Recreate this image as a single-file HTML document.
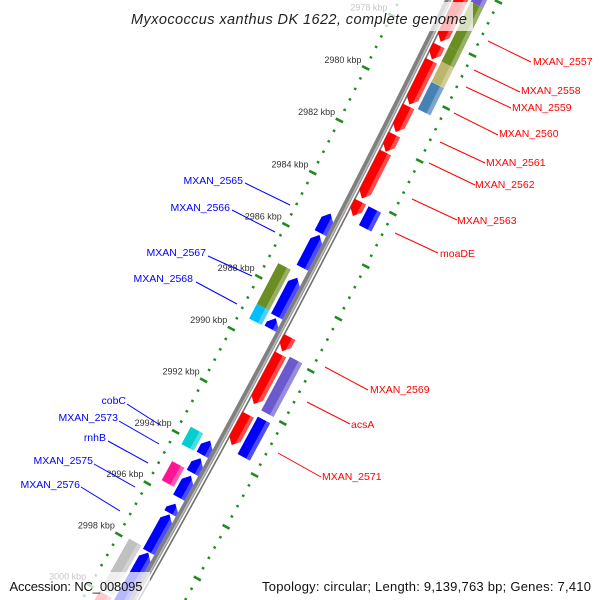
<!DOCTYPE html>
<html><head><meta charset="utf-8"><style>
html,body{margin:0;padding:0;background:#fff;width:600px;height:600px;overflow:hidden;}
svg{display:block;font-family:"Liberation Sans",sans-serif;overflow:hidden;}
</style></head><body>
<svg id="chart" width="600" height="600" viewBox="0 0 600 600" xmlns="http://www.w3.org/2000/svg">
<defs id="defs"></defs>
<g id="rings"></g>
<g id="backbone"></g>
<g id="features"></g>
<g id="ticklabels"></g>
<g id="labels"></g>
<g id="overlay">
  <rect x="127" y="2" width="346" height="29" fill="#fff" fill-opacity="0.72"/>
  <text x="131" y="24" font-size="14.5" font-style="italic" fill="#222" textLength="336" lengthAdjust="spacing">Myxococcus xanthus DK 1622, complete genome</text>
  <rect x="0" y="572" width="150" height="28" fill="#fff" fill-opacity="0.72"/>
  <text x="9.5" y="591" font-size="13" fill="#111" textLength="133" lengthAdjust="spacing">Accession: NC_008095</text>
  <rect x="256" y="572" width="344" height="28" fill="#fff" fill-opacity="0.72"/>
  <text x="262" y="591" font-size="13" fill="#111" textLength="329" lengthAdjust="spacing">Topology: circular; Length: 9,139,763 bp; Genes: 7,410</text>
</g>
</svg>
<script>
// ---- data ----
const featureNames = ["MXAN_2556","MXAN_2557a","MXAN_2557b","MXAN_2558","MXAN_2559","MXAN_2560","MXAN_2561","MXAN_2562","MXAN_2563","moaDE-r","moaDE",
  "MXAN_2569s","MXAN_2569","acsA","MXAN_2570","MXAN_2571",
  "MXAN_2565","MXAN_2566","MXAN_2567b","MXAN_2568b","MXAN_2567","MXAN_2568",
  "cobC","MXAN_2573b","MXAN_2573","rnhB","MXAN_2575","MXAN_2576a","MXAN_2576","MXAN_2577","gray-feature","red-feature"];
const featureStart = [2976.28,2975.5,2976.41,2978.10,2978.66,2979.43,2978.21,2978.79,2980.52,2981.59,2984.15,
  2989.32,2989.99,2989.91,2992.31,2992.21,
  2984.96,2985.78,2987.42,2988.98,2987.28,2988.85,
  2993.60,2993.70,2994.38,2994.93,2995.06,2996.15,2996.56,2998.05,2997.95,3000.0];
const featureEnd = [2978.07,2976.41,2978.10,2978.66,2979.42,2980.46,2978.74,2980.45,2981.49,2982.24,2984.87,
  2989.87,2991.90,2991.97,2993.48,2993.65,
  2985.71,2987.04,2988.91,2989.38,2988.85,2989.41,
  2994.27,2994.25,2994.95,2995.67,2995.91,2996.52,2998.02,3000.4,2999.9,3001.0];
// ring: 1 = forward inner, 2 = forward outer, -1 = reverse inner, -2 = reverse outer
const featureRing = [1,2,2,2,2,2,1,1,1,1,2, 1,1,2,1,2, -1,-1,-1,-1,-2,-2, -2,-1,-1,-2,-1,-1,-1,-1,-2,-2];
const featureColor = ["#ff0000","#6a5acd","#6b8e23","#6b8e23","#bdb76b","#4682b4","#ff0000","#ff0000","#ff0000","#ff0000","#0000ff",
  "#ff0000","#ff0000","#6a5acd","#ff0000","#0000ff",
  "#0000ff","#0000ff","#0000ff","#0000ff","#6b8e23","#00bfff",
  "#00ced1","#0000ff","#0000ff","#ff1493","#0000ff","#0000ff","#0000ff","#0000ff","#c0c0c0","#ff4040"];
const extraRed = [[2984.14,2984.69],[2982.27,2984.02]];
const tickKbp = [2978,2980,2982,2984,2986,2988,2990,2992,2994,2996,2998,3000];
const tickLabels = ["2978 kbp","2980 kbp","2982 kbp","2984 kbp","2986 kbp","2988 kbp","2990 kbp","2992 kbp","2994 kbp","2996 kbp","2998 kbp","3000 kbp"];

// ---- geometry ----
const NS="http://www.w3.org/2000/svg";
const R=11000, TH0=26*Math.PI/180, P0=[446,0];
const CX=P0[0]-R*Math.cos(TH0), CY=P0[1]-R*Math.sin(TH0);
const PXK=29.44;
function sOfK(k){return 508.8+(k-2994)*PXK;}
function pt(k,off){const f=TH0+sOfK(k)/R, r=R+off;return [CX+r*Math.cos(f), CY+r*Math.sin(f)];}
function poly(list){return list.map(p=>p[0].toFixed(2)+","+p[1].toFixed(2)).join(" ");}
const CEN=3;
function ringOff(ring){
  const a = Math.abs(ring)===1?4:20, b = Math.abs(ring)===1?17:34;
  return ring>0?[CEN+a,CEN+b]:[CEN-b,CEN-a];
}

// rings
const rg=document.getElementById('rings');
for(const side of [-1,1]){
  const ro = CEN + side*45;
  for(let i=0;i<=68;i++){
    const k=2975.2+i*0.4;
    const isDash = Math.abs(k/2-Math.round(k/2))<0.01;
    const l=document.createElementNS(NS,'line');
    let a,b;
    if(isDash){a=pt(k,ro-4);b=pt(k,ro+4);}
    else{a=pt(k-0.04,ro);b=pt(k+0.04,ro);}
    l.setAttribute('x1',a[0]);l.setAttribute('y1',a[1]);l.setAttribute('x2',b[0]);l.setAttribute('y2',b[1]);
    l.setAttribute('stroke','#1e8c1e');l.setAttribute('stroke-width',2.6);
    
    
    rg.appendChild(l);
  }
}

// backbone
const bb=document.getElementById('backbone');
function arcLine(off,w,color,name){
  const pts=[];for(let k=2975;k<=3002;k+=0.5)pts.push(pt(k,off));
  const p=document.createElementNS(NS,'polyline');
  p.setAttribute('points',poly(pts));p.setAttribute('fill','none');
  p.setAttribute('stroke',color);p.setAttribute('stroke-width',w);
  
  
  bb.appendChild(p);
}
arcLine(2,6,'#808080','backbone-line');
arcLine(3.5,1.6,'#b8b8b8','backbone-highlight');
arcLine(7.5,1.6,'#707070','backbone-inner-line');

// features
const fg=document.getElementById('features');
const defs=document.getElementById('defs');
const H=7/PXK;
function drawFeature(name,k1,k2,ring,color,idx){
  const [o1,o2]=ringOff(ring), mid=(o1+o2)/2;
  let shape;
  const isArrow = Math.abs(ring)===1;
  if(isArrow && ring>0){
    const h=Math.min(H,(k2-k1)*0.6);
    shape=[pt(k1,o1),pt(k2-h,o1),pt(k2,mid),pt(k2-h,o2),pt(k1,o2)];
  } else if(isArrow && ring<0){
    const h=Math.min(H,(k2-k1)*0.6);
    shape=[pt(k2,o1),pt(k1+h,o1),pt(k1,mid),pt(k1+h,o2),pt(k2,o2)];
  } else {
    shape=[pt(k1,o1),pt(k2,o1),pt(k2,o2),pt(k1,o2)];
  }
  const cp=document.createElementNS(NS,'clipPath');cp.setAttribute('id','cp'+idx);
  const cpp=document.createElementNS(NS,'polygon');cpp.setAttribute('points',poly(shape));cp.appendChild(cpp);defs.appendChild(cp);
  const g=document.createElementNS(NS,'g');
  
  
  const p=document.createElementNS(NS,'polygon');
  p.setAttribute('points',poly(shape));p.setAttribute('fill',color);
  g.appendChild(p);
  const w=o2-o1;
  const strip=[pt(k1-1,o2-0.3*w),pt(k2+1,o2-0.3*w),pt(k2+1,o2+1),pt(k1-1,o2+1)];
  const s=document.createElementNS(NS,'polygon');
  s.setAttribute('points',poly(strip));s.setAttribute('fill','#fff');s.setAttribute('fill-opacity','0.3');
  s.setAttribute('clip-path','url(#cp'+idx+')');
  g.appendChild(s);
  fg.appendChild(g);
}
for(let i=0;i<featureNames.length;i++){
  drawFeature(featureNames[i],featureStart[i],featureEnd[i],featureRing[i],featureColor[i],i);
}
extraRed.forEach((r,j)=>drawFeature('extra-red-'+j,r[0],r[1],1,'#ff0000',100+j));

// tick labels
const tl=document.getElementById('ticklabels');
tickKbp.forEach((k,i)=>{
  const p=pt(k+0.1,-66);
  const t=document.createElementNS(NS,'text');
  t.setAttribute('x',p[0]);t.setAttribute('y',p[1]+3);
  t.setAttribute('text-anchor','middle');t.setAttribute('font-size','9');t.setAttribute('fill','#333');
  t.textContent=tickLabels[i];
  
  
  tl.appendChild(t);
});

// feature labels (layout positions)
const rightLabels=[["MXAN_2557",488,41,531,62,533,61],["MXAN_2558",474,70,520,92,521,90],["MXAN_2559",466,87,511,108,512,107],
["MXAN_2560",454,113,498,135,499,133],["MXAN_2561",440,142,485,163,486,162],["MXAN_2562",429,163,475,185,475,184],
["MXAN_2563",412,199,457,220,457,220],["moaDE",395,233,438,253,440,253],["MXAN_2569",325,367,368,390,370,389],
["acsA",307,402,350,424,351,424],["MXAN_2571",278,453,321,477,322,476]];
const leftLabels=[["MXAN_2565",290,205,245,183,243,180],["MXAN_2566",275,232,232,210,230,207],["MXAN_2567",252,276,208,256,206,252],
["MXAN_2568",237,304,196,282,193,278],["cobC",160,425,127,404,126,400],["MXAN_2573",159,444,119,421,118,417],
["rnhB",148,463,108,441,106,437],["MXAN_2575",135,487,94,464,93,460],["MXAN_2576",120,511,81,487,80,484]];
const lg=document.getElementById('labels');
function addLabel(L,color,anchor){
  const l=document.createElementNS(NS,'line');
  l.setAttribute('x1',L[1]);l.setAttribute('y1',L[2]);l.setAttribute('x2',L[3]);l.setAttribute('y2',L[4]);
  l.setAttribute('stroke',color);l.setAttribute('stroke-width','1');
  
  
  lg.appendChild(l);
  const t=document.createElementNS(NS,'text');
  t.setAttribute('x',L[5]);t.setAttribute('y',L[6]+4);t.setAttribute('text-anchor',anchor);
  t.setAttribute('font-size','10.5');t.setAttribute('fill',color);
  t.textContent=L[0];
  
  
  lg.appendChild(t);
}
rightLabels.forEach(L=>addLabel(L,'#ff0000','start'));
leftLabels.forEach(L=>addLabel(L,'#0000ff','end'));
</script>
</body></html>
